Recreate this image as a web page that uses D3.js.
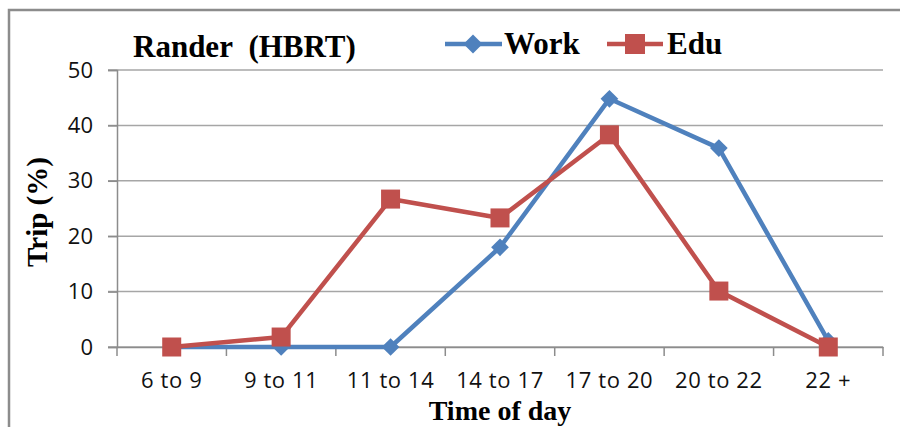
<!DOCTYPE html>
<html><head><meta charset="utf-8">
<script src="https://cdn.jsdelivr.net/npm/d3@7"></script>
<style>html,body{margin:0;padding:0;background:#fff;overflow:hidden}
.serif{font-family:"Liberation Serif","Times New Roman",serif;font-weight:bold;fill:#000}
.tick text{font-family:"Open Sans",sans-serif;fill:#111}
</style>
</head><body>
<svg id="c" width="900" height="427"></svg>
<script>
const categories = ["6 to 9","9 to 11","11 to 14","14 to 17","17 to 20","20 to 22","22 +"];
const workValues = [0, 0, 0, 18, 44.8, 35.9, 1.1];
const eduValues = [0, 1.8, 26.7, 23.3, 38.3, 10.1, 0];
const yTicks = [0, 10, 20, 30, 40, 50];

const svg = d3.select("#c");
const pLeft = 117, pRight = 883, pTop = 70, pBottom = 347;

svg.append("rect").attr("x", 9).attr("y", 10).attr("width", 900).attr("height", 430)
  .attr("fill", "#fff").attr("stroke", "#8c8c8c").attr("stroke-width", 2.5);

const x = d3.scaleBand().domain(categories).range([pLeft, pRight]).padding(0);
const y = d3.scaleLinear().domain([0, 50]).range([pBottom, pTop]);

// gridlines
svg.append("g").selectAll("line").data(yTicks).join("line")
  .attr("x1", pLeft - 9).attr("x2", pRight).attr("y1", d => y(d)).attr("y2", d => y(d))
  .attr("stroke", "#a6a6a6").attr("stroke-width", 1.5);

// y axis
const yAxis = svg.append("g").attr("transform", `translate(${pLeft},0)`)
  .call(d3.axisLeft(y).tickValues(yTicks).tickSize(9).tickPadding(15));
yAxis.select(".domain").attr("stroke", "#8c8c8c").attr("stroke-width", 1.5);
yAxis.selectAll(".tick line").attr("stroke", "#8c8c8c").attr("stroke-width", 1.5);
yAxis.selectAll("text").attr("font-size", 22);

// x axis
const xAxis = svg.append("g").attr("transform", `translate(0,${pBottom})`)
  .call(d3.axisBottom(x).tickSize(0).tickPadding(25));
xAxis.select(".domain").attr("stroke", "#8c8c8c").attr("stroke-width", 1.5);
xAxis.selectAll("text").attr("font-size", 22).attr("letter-spacing", 0.6);
const bounds = categories.map(c => x(c)).concat([pRight]);
xAxis.append("g").selectAll("line").data(bounds).join("line")
  .attr("x1", d => d).attr("x2", d => d).attr("y1", 0).attr("y2", 9)
  .attr("stroke", "#8c8c8c").attr("stroke-width", 1.5);

const cx = c => x(c) + x.bandwidth() / 2;
const line = d3.line().x(d => cx(d.c)).y(d => y(d.v));
const workData = categories.map((c, i) => ({c, v: workValues[i]}));
const eduData = categories.map((c, i) => ({c, v: eduValues[i]}));

const blue = "#4F81BD", red = "#C0504D";
svg.append("path").datum(workData).attr("d", line).attr("fill", "none").attr("stroke", blue).attr("stroke-width", 4.5).attr("stroke-linejoin", "round");
svg.append("g").selectAll("path").data(workData).join("path")
  .attr("d", d3.symbol(d3.symbolDiamond2, 200)())
  .attr("transform", d => `translate(${cx(d.c)},${y(d.v)})`)
  .attr("fill", blue);
svg.append("path").datum(eduData).attr("d", line).attr("fill", "none").attr("stroke", red).attr("stroke-width", 4.5).attr("stroke-linejoin", "round");
svg.append("g").selectAll("rect").data(eduData).join("rect")
  .attr("x", d => cx(d.c) - 9.5).attr("y", d => y(d.v) - 9.5).attr("width", 19).attr("height", 19)
  .attr("fill", red);

// title
svg.append("text").attr("class", "serif").attr("x", 133).attr("y", 57).text("Rander\u00a0\u00a0(HBRT)")
  .attr("font-size", 31);

// legend
const lg = svg.append("g");
lg.append("line").attr("x1", 445).attr("x2", 502).attr("y1", 44).attr("y2", 44).attr("stroke", blue).attr("stroke-width", 4.5);
lg.append("path").attr("d", d3.symbol(d3.symbolDiamond2, 230)()).attr("transform", "translate(473,44)").attr("fill", blue);
lg.append("text").attr("class", "serif").attr("x", 504).attr("y", 54).text("Work").attr("font-size", 31);
lg.append("line").attr("x1", 607).attr("x2", 663).attr("y1", 44).attr("y2", 44).attr("stroke", red).attr("stroke-width", 4.5);
lg.append("rect").attr("x", 625).attr("y", 34).attr("width", 20).attr("height", 20).attr("fill", red);
lg.append("text").attr("class", "serif").attr("x", 667).attr("y", 54).text("Edu").attr("font-size", 31);

// axis titles
svg.append("text").attr("class", "serif").attr("transform", "translate(47,212) rotate(-90)").attr("text-anchor", "middle").text("Trip (%)")
  .attr("font-size", 29);
svg.append("text").attr("class", "serif").attr("x", 500).attr("y", 420).attr("text-anchor", "middle").text("Time of day")
  .attr("font-size", 28);
</script>
</body></html>
